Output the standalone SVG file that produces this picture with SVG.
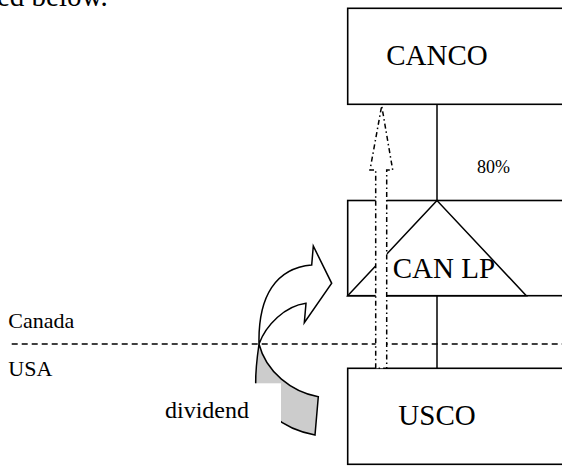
<svg xmlns="http://www.w3.org/2000/svg" width="562" height="466" viewBox="0 0 562 466">
<style>
text{font-family:"Liberation Serif","Times New Roman",serif;fill:#000}
.box{fill:#fff;stroke:#000;stroke-width:1.6}
.ln{fill:none;stroke:#000;stroke-width:1.5}
.big{font-size:29px}
.border{fill:none;stroke:#000;stroke-width:1.3;stroke-dasharray:6 4}
.dd{fill:#fff;stroke:#000;stroke-width:1.5;stroke-dasharray:5 3 1.5 3}
</style>
<rect width="562" height="466" fill="#fff"/>
<text x="-3" y="6" class="big">ed below.</text>
<g id="canco">
<rect class="box" x="347.7" y="8.3" width="260" height="96"/>
<text x="437" y="65" class="big" text-anchor="middle">CANCO</text>
</g>
<g id="canlp">
<rect class="box" x="347.7" y="200.5" width="260" height="95.2"/>
<polygon class="ln" points="437,200.5 347.7,295.7 526.3,295.7"/>
<text x="392.7" y="277.7" class="big">CAN LP</text>
</g>
<g id="usco">
<rect class="box" x="347.7" y="368.3" width="260" height="96"/>
<text x="437" y="425" class="big" text-anchor="middle">USCO</text>
</g>
<g id="border">
<line class="border" x1="11.7" y1="344" x2="562" y2="344"/>
<text x="8.3" y="328.3" font-size="22">Canada</text>
<text x="8.3" y="375.7" font-size="22">USA</text>
</g>
<g id="connectors">
<line class="ln" x1="437" y1="104.3" x2="437" y2="200.5"/>
<line class="ln" x1="437" y1="295.7" x2="437" y2="368.3"/>
<text x="477" y="173.3" font-size="18">80%</text>
<g id="dividend-arrow">
<path d="M259,344 C257,358 255.5,372 255.7,383.3 C257,408 282,429 315,435 L318.3,396.7 C292,392 266,372 259,344 Z" fill="#cccccc" stroke="#000" stroke-width="1.5"/>
<rect x="150" y="383.3" width="131" height="70" fill="#fff"/>
<path d="M259,344 C258,296 276,268 311.7,265 L313.3,246 L331.7,283.3 L304.3,322.7 L306,303.3 C285,306 266,325 259,344 Z" fill="#fff" stroke="#000" stroke-width="1.5" stroke-linejoin="miter"/>
<text x="165" y="417.7" font-size="24">dividend</text>
</g>
<polygon class="dd" points="375.7,368.3 375.7,170 370,170 381.7,105.7 392.7,170 386.7,170 386.7,368.3"/>
</g>
</svg>
